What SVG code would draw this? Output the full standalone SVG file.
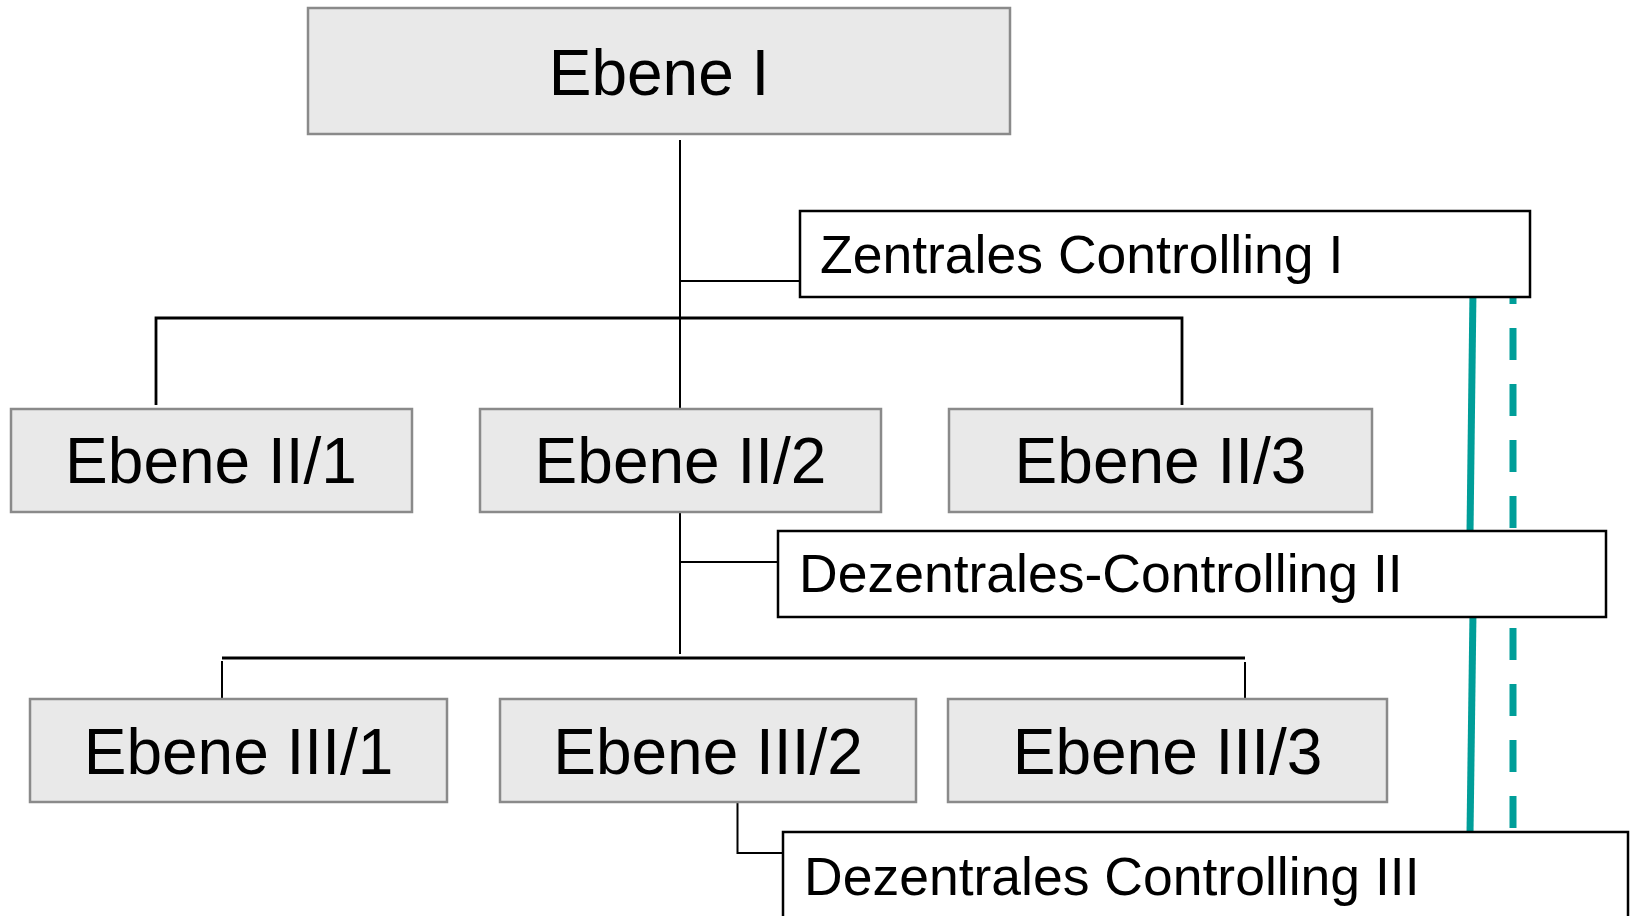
<svg xmlns="http://www.w3.org/2000/svg" width="1631" height="916" viewBox="0 0 1631 916">
  <style>
    .level { fill: #e9e9e9; stroke: #8a8a8a; stroke-width: 2.5; }
    .ctrl { fill: #ffffff; stroke: #000000; stroke-width: 2.5; }
    .lvl-text { font-family: "Liberation Sans", Arial, sans-serif; font-size: 64px; fill: #000; text-anchor: middle; }
    .ctrl-text { font-family: "Liberation Sans", Arial, sans-serif; font-size: 53.5px; fill: #000; }
    .wire { fill: none; stroke: #000; stroke-width: 2; }
    .bus { fill: none; stroke: #000; stroke-width: 2.8; }
    .teal { fill: none; stroke: #009e99; stroke-width: 7; }
    .teal-dash { fill: none; stroke: #009e99; stroke-width: 7; stroke-dasharray: 32 24; }
  </style>

  <rect width="1631" height="916" fill="#ffffff"/>

  <!-- connectors -->
  <g id="connectors">
    <!-- controlling links (teal) -->
    <line class="teal" x1="1473" y1="290" x2="1470" y2="533"/>
    <line class="teal" x1="1473" y1="612" x2="1470" y2="834"/>
    <line class="teal-dash" x1="1513" y1="272" x2="1513" y2="531"/>
    <line class="teal-dash" x1="1513" y1="572" x2="1513" y2="831"/>

    <!-- level I to level II -->
    <line class="wire" x1="680" y1="140" x2="680" y2="408"/>
    <line class="wire" x1="680" y1="281" x2="800" y2="281"/>
    <polyline class="bus" points="156,405 156,318 1182,318 1182,405"/>

    <!-- level II/2 to level III -->
    <line class="wire" x1="680" y1="512" x2="680" y2="654"/>
    <line class="wire" x1="680" y1="562" x2="778" y2="562"/>
    <line class="bus" x1="222" y1="658" x2="1245" y2="658"/>
    <line class="wire" x1="222" y1="661" x2="222" y2="698"/>
    <line class="wire" x1="1245" y1="662" x2="1245" y2="698"/>

    <!-- level III/2 to controlling III -->
    <polyline class="wire" points="737.5,803 737.5,853 783,853"/>
  </g>

  <!-- level nodes -->
  <g id="ebene-1">
    <rect class="level" x="308" y="8" width="702" height="126"/>
    <text class="lvl-text" x="659" y="95">Ebene I</text>
  </g>
  <g id="ebene-2-1">
    <rect class="level" x="11" y="409" width="401" height="103"/>
    <text class="lvl-text" x="211" y="483">Ebene II/1</text>
  </g>
  <g id="ebene-2-2">
    <rect class="level" x="480" y="409" width="401" height="103"/>
    <text class="lvl-text" x="680.5" y="483">Ebene II/2</text>
  </g>
  <g id="ebene-2-3">
    <rect class="level" x="949" y="409" width="423" height="103"/>
    <text class="lvl-text" x="1160.5" y="483">Ebene II/3</text>
  </g>
  <g id="ebene-3-1">
    <rect class="level" x="30" y="699" width="417" height="103"/>
    <text class="lvl-text" x="238.5" y="774">Ebene III/1</text>
  </g>
  <g id="ebene-3-2">
    <rect class="level" x="500" y="699" width="416" height="103"/>
    <text class="lvl-text" x="708" y="774">Ebene III/2</text>
  </g>
  <g id="ebene-3-3">
    <rect class="level" x="948" y="699" width="439" height="103"/>
    <text class="lvl-text" x="1167.5" y="774">Ebene III/3</text>
  </g>

  <!-- controlling nodes -->
  <g id="controlling-1">
    <rect class="ctrl" x="800" y="211" width="730" height="86"/>
    <text class="ctrl-text" x="820" y="273">Zentrales Controlling I</text>
  </g>
  <g id="controlling-2">
    <rect class="ctrl" x="778" y="531" width="828" height="86"/>
    <text class="ctrl-text" x="799" y="592">Dezentrales-Controlling II</text>
  </g>
  <g id="controlling-3">
    <rect class="ctrl" x="783" y="832" width="845" height="100"/>
    <text class="ctrl-text" x="804" y="895">Dezentrales Controlling III</text>
  </g>
</svg>
